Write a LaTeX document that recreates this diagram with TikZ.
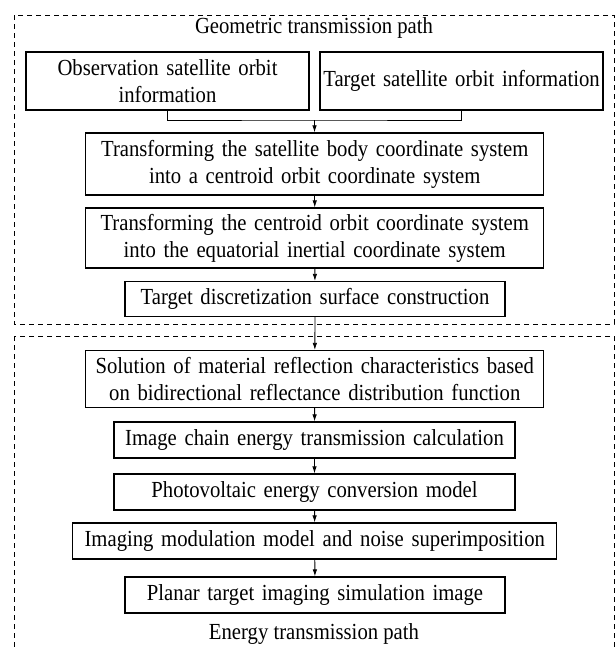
\documentclass[tikz,border=0pt]{standalone}
\usepackage{fontspec}
\setmainfont{Liberation Serif}[FakeStretch=0.9]
\usetikzlibrary{arrows.meta}

\begin{document}
\begin{tikzpicture}[x=1pt, y=-1pt,
    blk/.style={draw, line width=1.3pt, align=center, inner xsep=0pt, inner ysep=0pt,
      font=\fontsize{23}{27}\selectfont},
    one/.style={blk, minimum height=35pt},
    two/.style={blk, minimum height=60pt},
    pathbox/.style={draw, line width=0.9pt, dash pattern=on 5pt off 4pt},
    arr/.style={-{Latex[length=7pt,width=4.5pt]}, line width=0.8pt},
    lbl/.style={font=\fontsize{23}{27}\selectfont}]
  \useasboundingbox (0,0) rectangle (615,648);
  \clip (0,0) rectangle (615,648);
  % two paths
  \draw[pathbox] (14,15) rectangle (614,324);
  \draw[pathbox] (14,336) rectangle (614,700);
  \node[lbl] (geo) at (314,28) {Geometric transmission path};
  \node[lbl] (ene) at (314,634) {Energy transmission path};
  % geometric transmission path
  \node[blk, text width=283pt, minimum height=58pt] (obs) at (167.5,81) {Observation satellite orbit\\information};
  \node[blk, text width=283pt, minimum height=58pt] (tgt) at (461.5,81) {Target satellite orbit information};
  \node[two, text width=458pt, minimum height=62pt] (body) at (314.75,164) {Transforming the satellite body coordinate system\\into a centroid orbit coordinate system};
  \node[two, text width=458pt] (orb) at (314.75,238) {Transforming the centroid orbit coordinate system\\into the equatorial inertial coordinate system};
  \node[one, text width=380pt] (surf) at (315,299) {Target discretization surface construction};
  % energy transmission path
  \node[two, text width=458pt, minimum height=57pt] (brdf) at (314.75,379) {Solution of material reflection characteristics based\\on bidirectional reflectance distribution function};
  \node[one, text width=401pt, minimum height=36pt] (chain) at (314.5,440) {Image chain energy transmission calculation};
  \node[one, text width=401pt, minimum height=36pt] (pv) at (314.5,492) {Photovoltaic energy conversion model};
  \node[one, text width=484pt, minimum height=36pt] (mod) at (314.75,541) {Imaging modulation model and noise superimposition};
  \node[one, text width=380pt, minimum height=36pt] (img) at (315,595) {Planar target imaging simulation image};
  % connectors
  \coordinate (jn) at (314.5,120);
  \draw[line width=0.8pt] (obs.south) |- (jn) -| (tgt.south);
  \draw[arr] (jn) -- (body);
  \draw[arr] (body) -- (orb);
  \draw[arr] (orb) -- (surf);
  \draw[arr] (surf) -- (brdf);
  \draw[arr] (brdf) -- (chain);
  \draw[arr] (chain) -- (pv);
  \draw[arr] (pv) -- (mod);
  \draw[arr] (mod) -- (img);
\end{tikzpicture}
\end{document}
